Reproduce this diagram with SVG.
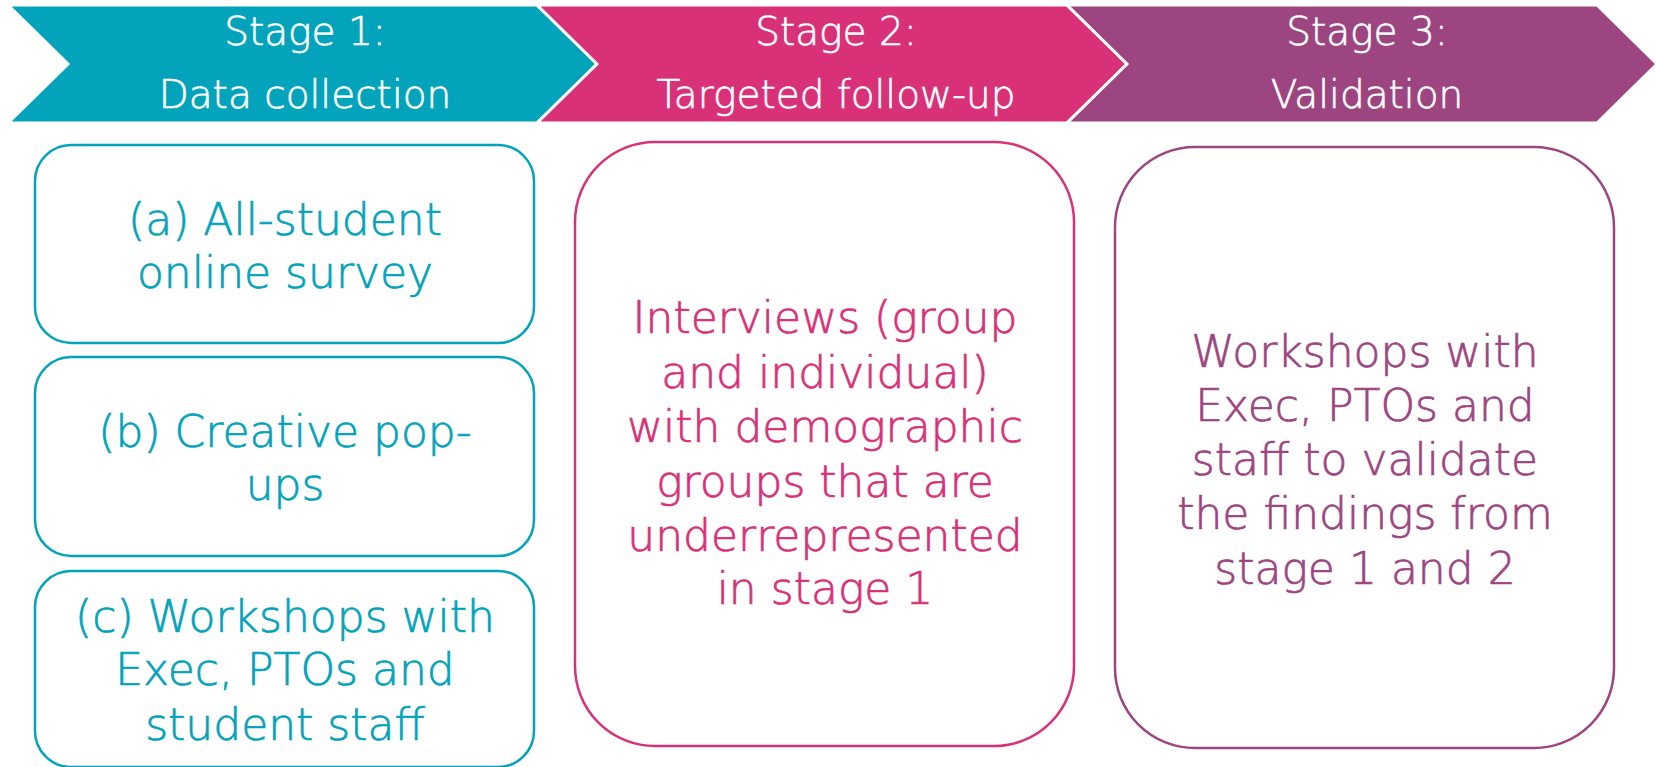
<svg xmlns="http://www.w3.org/2000/svg" width="1657" height="767" viewBox="0 0 1657 767">
<style>
.chev{stroke:#FFFFFF;stroke-width:3;stroke-linejoin:miter}
.hd{font-family:"DejaVu Sans","Liberation Sans",sans-serif;font-weight:300;font-size:39px;fill:#FFFFFF;stroke:#FFFFFF;stroke-width:0.6;text-anchor:middle}
.bx{fill:#FFFFFF;stroke-width:2.5}
.tx{font-family:"DejaVu Sans","Liberation Sans",sans-serif;font-weight:300;font-size:44px;stroke-width:0.7;text-anchor:middle}
.teal{stroke:#03A3BB}
.pink{stroke:#D83177}
.purp{stroke:#9D4581}
.tealt{fill:#03A3BB;stroke:#03A3BB}
.pinkt{fill:#D83177;stroke:#D83177}
.purpt{fill:#9D4581;stroke:#9D4581}
</style>
<rect width="1657" height="767" fill="#FFFFFF"/>
<g id="stage1-header">
<polygon class="chev" fill="#03A3BB" points="8,5 537,5 597,64 537,123 8,123 68,64"/>
<text class="hd" x="305" y="45">Stage 1:</text>
<text class="hd" x="305" y="108">Data collection</text>
</g>
<g id="stage2-header">
<polygon class="chev" fill="#D83177" points="537,5 1067,5 1127,64 1067,123 537,123 597,64"/>
<text class="hd" x="836" y="45">Stage 2:</text>
<text class="hd" x="836" y="108">Targeted follow-up</text>
</g>
<g id="stage3-header">
<polygon class="chev" fill="#9D4581" points="1067,5 1597,5 1657,64 1597,123 1067,123 1127,64"/>
<text class="hd" x="1367" y="45">Stage 3:</text>
<text class="hd" x="1367" y="108">Validation</text>
</g>
<g id="box-a">
<rect class="bx teal" x="35" y="145" width="499" height="198" rx="36"/>
<text class="tx tealt" x="285" y="235">(a) All-student</text>
<text class="tx tealt" x="285" y="288">online survey</text>
</g>
<g id="box-b">
<rect class="bx teal" x="35" y="357" width="499" height="199" rx="36"/>
<text class="tx tealt" x="285" y="447">(b) Creative pop-</text>
<text class="tx tealt" x="285" y="500">ups</text>
</g>
<g id="box-c">
<rect class="bx teal" x="35" y="571" width="499" height="196" rx="36"/>
<text class="tx tealt" x="285" y="632">(c) Workshops with</text>
<text class="tx tealt" x="285" y="685">Exec, PTOs and</text>
<text class="tx tealt" x="285" y="740">student staff</text>
</g>
<g id="box-stage2">
<rect class="bx pink" x="575" y="142" width="499" height="604" rx="80"/>
<text class="tx pinkt" x="825" y="333">Interviews (group</text>
<text class="tx pinkt" x="825" y="388">and individual)</text>
<text class="tx pinkt" x="825" y="442">with demographic</text>
<text class="tx pinkt" x="825" y="497">groups that are</text>
<text class="tx pinkt" x="825" y="551">underrepresented</text>
<text class="tx pinkt" x="825" y="604">in stage 1</text>
</g>
<g id="box-stage3">
<rect class="bx purp" x="1115" y="147" width="499" height="601" rx="80"/>
<text class="tx purpt" x="1365" y="367">Workshops with</text>
<text class="tx purpt" x="1365" y="421">Exec, PTOs and</text>
<text class="tx purpt" x="1365" y="475">staff to validate</text>
<text class="tx purpt" x="1365" y="529">the findings from</text>
<text class="tx purpt" x="1365" y="584">stage 1 and 2</text>
</g>
<g id="connectors"></g>
</svg>
